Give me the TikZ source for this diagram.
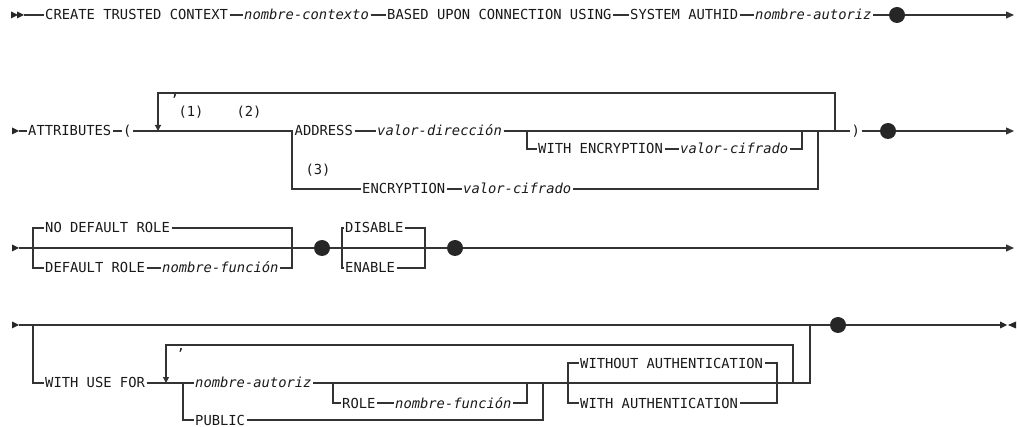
\documentclass[tikz,border=0pt]{standalone}
\usepackage{fontspec}
\setmonofont{DejaVu Sans Mono}
\usetikzlibrary{arrows.meta}

\tikzset{
  rail/.style={line width=1.2pt, draw=black!80},
  kw/.style={anchor=west, inner xsep=1.5pt, inner ysep=0pt, text height=10pt, text depth=0pt, font=\fontsize{13.8}{16}\selectfont\ttfamily, text=black!90},
  var/.style={kw, font=\fontsize{13.8}{16}\selectfont\ttfamily\itshape},
  note/.style={font=\fontsize{13.8}{16}\selectfont\ttfamily, inner sep=0pt, text=black!90},
  endtip/.style={-{Triangle[length=8pt,width=7pt]}},
  looptip/.style={-{Triangle[length=6pt,width=6pt]}},
  bullet/.style={circle, fill=black!85, inner sep=0pt, minimum size=16pt},
  railtip/.pic={\fill[black!85] (0,-3.5) -- (7,0) -- (0,3.5) -- cycle;}
}

\begin{document}
\begin{tikzpicture}[x=1pt, y=-1pt]
    \useasboundingbox (0,0) rectangle (1017,427);

    % first line
    \pic at (11,15) {railtip};
    \pic at (17,15) {railtip};
    \coordinate (r1s) at (24,15);
    \node[kw] (create) at (43.5,15) {CREATE TRUSTED CONTEXT};
    \node[var] (ctxname) at (242.5,15) {nombre-contexto};
    \node[kw] (based) at (385.5,15) {BASED UPON CONNECTION USING};
    \node[kw] (authid) at (628.5,15) {SYSTEM AUTHID};
    \node[var] (authname) at (753.5,15) {nombre-autoriz};
    \node[bullet] (dot1) at (897,15) {};
    \coordinate (r1e) at (1014,15);
    \draw[rail] (r1s) -- (create.west) (create.east) -- (ctxname.west)
        (ctxname.east) -- (based.west) (based.east) -- (authid.west)
        (authid.east) -- (authname.west) (authname.east) -- (dot1);
    \draw[rail, endtip] (dot1) -- (r1e);

    % attributes
    \pic at (12,131) {railtip};
    \coordinate (r2s) at (19,131);
    \node[kw] (attrs) at (26.5,131) {ATTRIBUTES};
    \node[kw] (lpar) at (121.5,131) {(};
    \coordinate (loopa) at (158,93);
    \coordinate (loopb) at (158,131);
    \coordinate (br2a) at (292,131);
    \node[kw] (address) at (293,131) {ADDRESS};
    \node[var] (addrval) at (375.5,131) {valor-dirección};
    \coordinate (br2b) at (527,131);
    \node[kw] (withenc) at (536.5,149) {WITH ENCRYPTION};
    \node[var] (encval1) at (678.5,149) {valor-cifrado};
    \coordinate (br2c) at (802,131);
    \node[kw] (enc) at (360.5,189) {ENCRYPTION};
    \node[var] (encval2) at (461.5,189) {valor-cifrado};
    \coordinate (br2d) at (818,131);
    \coordinate (loopc) at (835,93);
    \coordinate (loopd) at (835,131);
    \node[kw] (rpar) at (850,131) {)};
    \node[bullet] (dot2) at (888,131) {};
    \coordinate (r2e) at (1014,131);
    \node[note] (comma2) at (175,96) {,};
    \node[note] (fn1) at (191,112) {(1)};
    \node[note] (fn2) at (249,112) {(2)};
    \node[note] (fn3) at (318,170) {(3)};
    \draw[rail] (r2s) -- (attrs.west) (attrs.east) -- (lpar.west)
        (lpar.east) -- (br2a) -- (address.west) (address.east) -- (addrval.west)
        (addrval.east) -- (loopd) -- (rpar.west) (rpar.east) -- (dot2);
    \draw[rail] (br2b) |- (withenc.west) (withenc.east) -- (encval1.west)
        (encval1.east) -| (br2c);
    \draw[rail] (br2a) |- (enc.west) (enc.east) -- (encval2.west)
        (encval2.east) -| (br2d);
    \draw[rail, looptip] (loopd) -- (loopc) -- (loopa) -- (loopb);
    \draw[rail, endtip] (dot2) -- (r2e);

    % default role, enable
    \pic at (12,248) {railtip};
    \coordinate (r3s) at (19,248);
    \coordinate (br3a) at (33,248);
    \node[kw] (nodef) at (43.5,228) {NO DEFAULT ROLE};
    \node[kw] (defrole) at (43.5,268) {DEFAULT ROLE};
    \node[var] (rolename) at (160.5,268) {nombre-función};
    \coordinate (br3b) at (292,248);
    \node[bullet] (dot3) at (322,248) {};
    \coordinate (br3c) at (342,248);
    \node[kw] (disable) at (343.5,228) {DISABLE};
    \node[kw] (enable) at (343.5,268) {ENABLE};
    \coordinate (br3d) at (425,248);
    \node[bullet] (dot4) at (455,248) {};
    \coordinate (r3e) at (1014,248);
    \draw[rail] (r3s) -- (dot3) -- (dot4);
    \draw[rail] (br3a) |- (nodef.west) (nodef.east) -| (br3b);
    \draw[rail] (br3a) |- (defrole.west) (defrole.east) -- (rolename.west)
        (rolename.east) -| (br3b);
    \draw[rail] (br3c) |- (disable.west) (disable.east) -| (br3d);
    \draw[rail] (br3c) |- (enable.west) (enable.east) -| (br3d);
    \draw[rail, endtip] (dot4) -- (r3e);

    % with use for
    \pic at (12,325) {railtip};
    \coordinate (r4s) at (19,325);
    \coordinate (br4a) at (33,325);
    \node[kw] (usefor) at (43.5,383) {WITH USE FOR};
    \coordinate (loop4a) at (166,345);
    \coordinate (loop4b) at (166,383);
    \coordinate (br4b) at (183,383);
    \node[var] (usrname) at (193.5,383) {nombre-autoriz};
    \coordinate (br4c) at (333,383);
    \node[kw] (rolekw) at (340.5,403) {ROLE};
    \node[var] (rolename2) at (393.5,403) {nombre-función};
    \coordinate (br4d) at (527,383);
    \node[kw] (public) at (193.5,420) {PUBLIC};
    \coordinate (br4e) at (543,383);
    \coordinate (br4f) at (568,383);
    \node[kw] (noauth) at (578.5,363) {WITHOUT AUTHENTICATION};
    \node[kw] (withauth) at (578.5,403) {WITH AUTHENTICATION};
    \coordinate (br4g) at (777,383);
    \coordinate (loop4c) at (793,345);
    \coordinate (loop4d) at (793,383);
    \coordinate (br4h) at (810,383);
    \coordinate (br4i) at (810,325);
    \node[bullet] (dot5) at (838,325) {};
    \coordinate (r4e) at (1000,325);
    \node[note] (comma4) at (181,350) {,};
    \draw[rail] (r4s) -- (dot5) -- (r4e);
    \draw[rail] (br4a) |- (usefor.west) (usefor.east) -- (usrname.west)
        (usrname.east) -- (br4h) -- (br4i);
    \draw[rail] (br4c) |- (rolekw.west) (rolekw.east) -- (rolename2.west)
        (rolename2.east) -| (br4d);
    \draw[rail] (br4b) |- (public.west) (public.east) -| (br4e);
    \draw[rail] (br4f) |- (noauth.west) (noauth.east) -| (br4g);
    \draw[rail] (br4f) |- (withauth.west) (withauth.east) -| (br4g);
    \draw[rail, looptip] (loop4d) -- (loop4c) -- (loop4a) -- (loop4b);
    \pic at (1000,325) {railtip};
    \fill[black!85] (1016,321.5) -- (1008,325) -- (1016,328.5) -- cycle;
\end{tikzpicture}
\end{document}
